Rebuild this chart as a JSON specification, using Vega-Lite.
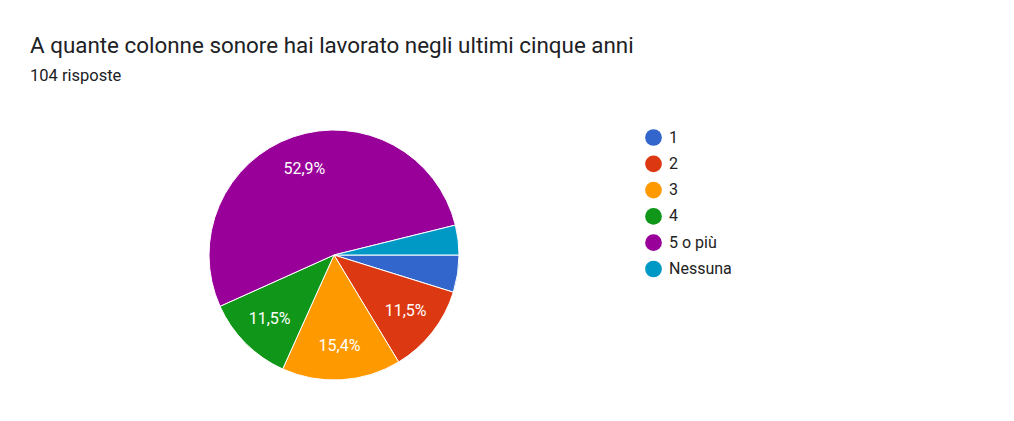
{
  "$schema": "https://vega.github.io/schema/vega-lite/v6.json",
  "autosize": "none",
  "width": 608,
  "height": 252,
  "padding": {"left": 30, "top": 129, "right": 376, "bottom": 40},
  "background": "white",
  "title": {
    "text": "A quante colonne sonore hai lavorato negli ultimi cinque anni",
    "subtitle": "104 risposte",
    "anchor": "start",
    "frame": "group",
    "offset": 44,
    "font": "Roboto",
    "fontSize": 22.4,
    "fontWeight": "normal",
    "color": "#202124",
    "subtitleFont": "Roboto",
    "subtitleFontSize": 16.5,
    "subtitleColor": "#202124",
    "subtitlePadding": 10
  },
  "data": {
    "values": [
      {"risposta": "1", "count": 5, "label": ""},
      {"risposta": "2", "count": 12, "label": "11,5%"},
      {"risposta": "3", "count": 16, "label": "15,4%"},
      {"risposta": "4", "count": 12, "label": "11,5%"},
      {"risposta": "5 o più", "count": 55, "label": "52,9%"},
      {"risposta": "Nessuna", "count": 4, "label": ""}
    ]
  },
  "encoding": {
    "theta": {
      "field": "count",
      "type": "quantitative",
      "stack": true,
      "scale": {"range": [1.5708, 7.85398]}
    },
    "order": {"field": "risposta", "type": "nominal"}
  },
  "layer": [
    {
      "mark": {"type": "arc", "outerRadius": 125, "stroke": "white", "strokeWidth": 1},
      "encoding": {
        "color": {
          "field": "risposta",
          "type": "nominal",
          "title": null,
          "scale": {
            "domain": ["1", "2", "3", "4", "5 o più", "Nessuna"],
            "range": ["#3366cc", "#dc3912", "#ff9900", "#109618", "#990099", "#0099c6"]
          },
          "legend": {
            "orient": "right",
            "offset": 7,
            "symbolType": "circle",
            "symbolSize": 280,
            "symbolStrokeWidth": 0,
            "labelFont": "Roboto",
            "labelFontSize": 16,
            "labelColor": "#222222",
            "labelOffset": 7,
            "rowPadding": 9.3
          }
        }
      }
    },
    {
      "mark": {"type": "text", "radius": 91, "font": "Roboto", "fontSize": 16, "color": "white"},
      "encoding": {"text": {"field": "label"}}
    }
  ]
}
